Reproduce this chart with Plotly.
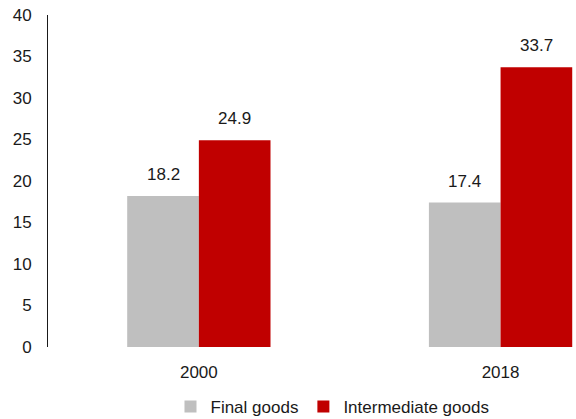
import plotly.graph_objects as go

years = ["2000", "2018"]
final_goods = [18.2, 17.4]
intermediate_goods = [24.9, 33.7]
y_ticks = [0, 5, 10, 15, 20, 25, 30, 35, 40]

font = dict(family="Liberation Sans, Arial, sans-serif", size=17, color="#1a1a1a")
GREY = "#BFBFBF"
RED = "#C00000"

fig = go.Figure()
fig.add_trace(go.Bar(
    x=years, y=final_goods, name="Final goods",
    marker=dict(color=GREY, line=dict(width=0)),
))
fig.add_trace(go.Bar(
    x=years, y=intermediate_goods, name="Intermediate goods",
    marker=dict(color=RED, line=dict(width=0)),
))

# value labels above each bar, offset within its group
for i, yr in enumerate(years):
    for vals, off in ((final_goods, -0.118), (intermediate_goods, 0.118)):
        fig.add_annotation(
            x=i + off, y=vals[i], xref="x", yref="y",
            text=f"{vals[i]:.1f}", showarrow=False,
            yanchor="bottom", yshift=10, font=font,
        )

fig.update_layout(
    width=576, height=419,
    margin=dict(l=48, r=0, t=15, b=72),
    paper_bgcolor="white", plot_bgcolor="white",
    font=font,
    barmode="group", bargap=0.525, bargroupgap=0,
    showlegend=True,
    legend=dict(orientation="h", x=0.232, xanchor="left",
                yref="container", y=0.029, yanchor="middle",
                font=font, itemwidth=30, traceorder="normal"),
    xaxis=dict(type="category", range=[-0.5, 1.25], showline=False, ticks="",
               showgrid=False, tickfont=font, ticklabelstandoff=13),
    yaxis=dict(range=[0, 40], tickvals=y_ticks, showgrid=False, zeroline=False,
               showline=True, linecolor="#1a1a1a", linewidth=1, ticks="",
               ticklabelstandoff=12, tickfont=font),
)

fig.write_html("out.html")
